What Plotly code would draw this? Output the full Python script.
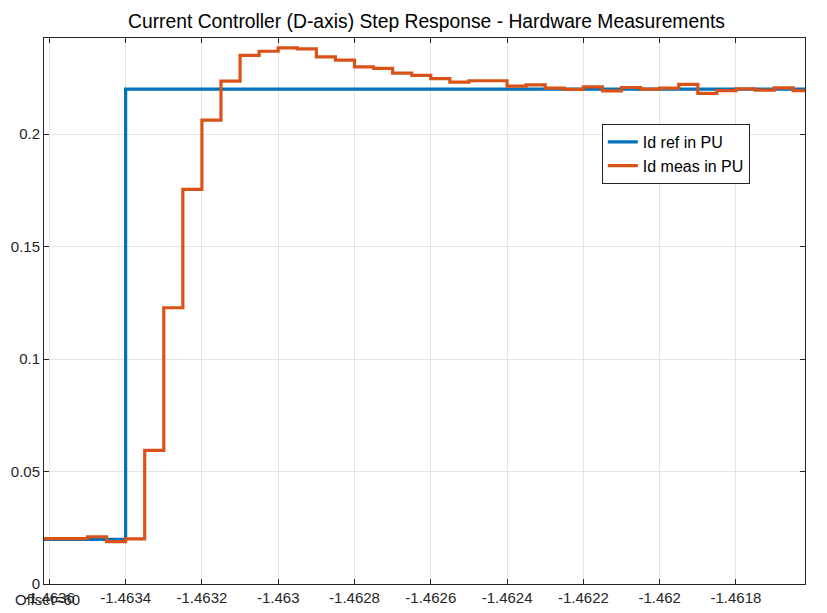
import plotly.graph_objects as go

# sample instants (s, shown with scope offset) and measured/reference Id in PU
t_meas = [-1.46365, -1.46360, -1.46355, -1.46350, -1.46345, -1.46340, -1.46335,
          -1.46330, -1.46325, -1.46320, -1.46315, -1.46310, -1.46305, -1.46300,
          -1.46295, -1.46290, -1.46285, -1.46280, -1.46275, -1.46270, -1.46265,
          -1.46260, -1.46255, -1.46250, -1.46245, -1.46240, -1.46235, -1.46230,
          -1.46225, -1.46220, -1.46215, -1.46210, -1.46205, -1.46200, -1.46195,
          -1.46190, -1.46185, -1.46180, -1.46175, -1.46170, -1.46165, -1.46160]
id_meas = [0.0202, 0.0202, 0.0202, 0.0210, 0.0188, 0.0201, 0.0594,
           0.1228, 0.1754, 0.2062, 0.2235, 0.2350, 0.2368, 0.2383,
           0.2379, 0.2343, 0.2329, 0.2299, 0.2292, 0.2271, 0.2261,
           0.2246, 0.2231, 0.2237, 0.2237, 0.2213, 0.2219, 0.2204,
           0.2199, 0.2210, 0.2192, 0.2207, 0.2200, 0.2204, 0.2221,
           0.2181, 0.2193, 0.2201, 0.2195, 0.2205, 0.2193, 0.2193]

t_ref = [-1.46365, -1.46340, -1.46160]
id_ref = [0.0198, 0.22, 0.22]

x_ticks = [-1.4636, -1.4634, -1.4632, -1.4630, -1.4628, -1.4626, -1.4624,
           -1.4622, -1.4620, -1.4618]
x_labels = ["-1.4636", "-1.4634", "-1.4632", "-1.463", "-1.4628", "-1.4626",
            "-1.4624", "-1.4622", "-1.462", "-1.4618"]
y_ticks = [0, 0.05, 0.1, 0.15, 0.2]
y_labels = ["0", "0.05", "0.1", "0.15", "0.2"]

fig = go.Figure()
fig.add_trace(go.Scatter(x=t_ref, y=id_ref, mode="lines", line_shape="hv",
                         name="Id ref in PU",
                         line=dict(color="#0072BD", width=3.2)))
fig.add_trace(go.Scatter(x=t_meas, y=id_meas, mode="lines", line_shape="hv",
                         name="Id meas in PU",
                         line=dict(color="#D95319", width=3.2)))

axis_style = dict(showline=True, linecolor="#262626", linewidth=1, mirror="ticks",
                  ticks="inside", ticklen=5, tickcolor="#262626",
                  showgrid=True, gridcolor="#e3e3e3", gridwidth=1,
                  zeroline=False, automargin=False,
                  tickfont=dict(size=15, color="#262626"))

fig.update_xaxes(range=[-1.463614, -1.461619], tickvals=x_ticks, ticktext=x_labels,
                 **axis_style)
fig.update_yaxes(range=[0, 0.2427], tickvals=y_ticks, ticktext=y_labels,
                 **axis_style)

# the page body adds an 8px offset, so margins are trimmed by that amount
fig.update_layout(
    width=827, height=613,
    margin=dict(l=36, r=30, t=30, b=37),
    paper_bgcolor="white", plot_bgcolor="white",
    font=dict(family="Liberation Sans, Arial, sans-serif", color="#262626"),
    title=dict(text="Current Controller (D-axis) Step Response - Hardware Measurements",
               x=0.506, xanchor="center", y=0.978, yanchor="middle",
               font=dict(size=19.3, color="#000000")),
    legend=dict(x=0.733, y=0.8425, xanchor="left", yanchor="top",
                bgcolor="white", bordercolor="#262626", borderwidth=1,
                font=dict(size=16, color="#000000"), tracegroupgap=0),
    showlegend=True,
)

fig.add_annotation(text="Offset=60", xref="paper", yref="paper",
                   x=-0.0407, y=-0.0293, xanchor="left", yanchor="middle",
                   showarrow=False, font=dict(size=15, color="#262626"))

fig.write_html("out.html")
